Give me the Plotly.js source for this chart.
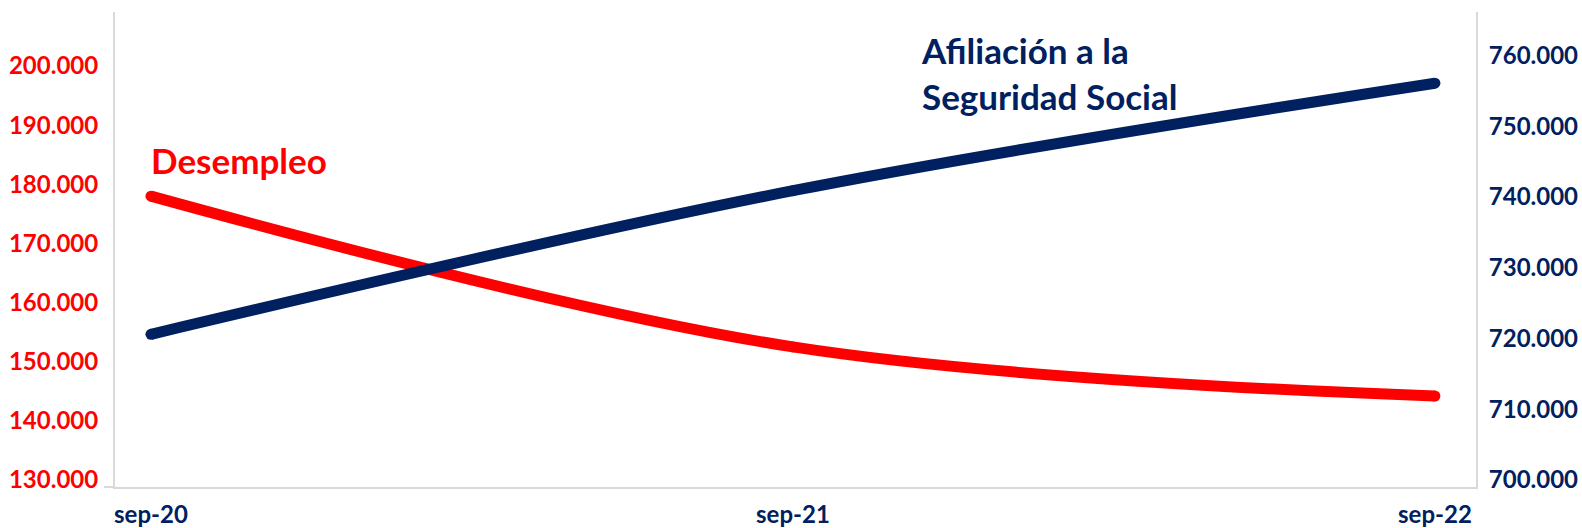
<!DOCTYPE html>
<html>
<head>
<meta charset="utf-8">
<script src="https://cdn.plot.ly/plotly-3.0.1.min.js"></script>
<style>
  html, body { margin: 0; padding: 0; background: #ffffff; }
  #chart { width: 1582px; height: 528px; }
</style>
</head>
<body>
<div id="chart"></div>
<script>
// ---- data ----
const categories = ['sep-20', 'sep-21', 'sep-22'];
const desempleo = [178000, 152500, 144200];     // left axis
const afiliacion = [720600, 740900, 756100];    // right axis
const labelDesempleo = 'Desempleo';
const labelAfiliacion = 'Afiliación a la<br>Seguridad Social';

const RED = '#FF0000';
const NAVY = '#002060';
const AXIS = '#D9D9D9';
const FONT = 'Lato, "Open Sans", sans-serif';

const xIdx = categories.map((c, i) => i);

const traces = [
  {
    x: xIdx, y: desempleo, name: labelDesempleo, yaxis: 'y',
    mode: 'lines+markers',
    line: { color: RED, width: 11, shape: 'spline', smoothing: 1 },
    marker: { color: RED, size: 11 },
    hoverinfo: 'skip'
  },
  {
    x: xIdx, y: afiliacion, name: 'Afiliación a la Seguridad Social', yaxis: 'y2',
    mode: 'lines+markers',
    line: { color: NAVY, width: 11, shape: 'spline', smoothing: 1 },
    marker: { color: NAVY, size: 11 },
    hoverinfo: 'skip'
  }
];

const layout = {
  width: 1582, height: 528,
  margin: { l: 115, r: 106, t: 12, b: 41, pad: 0 },
  paper_bgcolor: '#ffffff', plot_bgcolor: '#ffffff',
  showlegend: false,
  separators: ',.',
  font: { family: FONT, size: 24, color: NAVY, weight: 'bold' },
  xaxis: {
    range: [-0.056, 2.064],
    tickvals: xIdx, ticktext: categories,
    showgrid: false, zeroline: false,
    showline: true, linecolor: AXIS, linewidth: 2,
    ticks: '', ticklabelstandoff: 5,
    tickfont: { family: FONT, size: 24, color: NAVY, weight: 'bold' }
  },
  yaxis: {
    range: [128816, 209134],
    tick0: 130000, dtick: 10000, tickformat: ',d',
    showgrid: false, zeroline: false,
    showline: true, linecolor: AXIS, linewidth: 2,
    ticks: '', ticklabelstandoff: 10,
    tickfont: { family: FONT, size: 24, color: RED, weight: 'bold' }
  },
  yaxis2: {
    overlaying: 'y', side: 'right', anchor: 'x',
    range: [699010, 766167],
    tick0: 700000, dtick: 10000, tickformat: ',d',
    showgrid: false, zeroline: false,
    showline: true, linecolor: AXIS, linewidth: 2,
    ticks: '', ticklabelstandoff: 6,
    tickfont: { family: FONT, size: 24, color: NAVY, weight: 'bold' }
  },
  shapes: [
    { type: 'line', xref: 'paper', yref: 'paper', x0: -0.008, x1: 0, y0: 0, y1: 0,
      line: { color: AXIS, width: 2 } }
  ],
  annotations: [
    { xref: 'paper', yref: 'paper', x: 0.025, y: 0.688, xanchor: 'left', yanchor: 'middle',
      text: labelDesempleo, showarrow: false,
      font: { family: FONT, size: 35, color: RED, weight: 'bold' } },
    { xref: 'paper', yref: 'paper', x: 0.591, y: 0.872, xanchor: 'left', yanchor: 'middle',
      align: 'left', text: labelAfiliacion, showarrow: false,
      font: { family: FONT, size: 35, color: NAVY, weight: 'bold' } }
  ]
};

Plotly.newPlot('chart', traces, layout, { displayModeBar: false, staticPlot: true });
</script>
</body>
</html>
